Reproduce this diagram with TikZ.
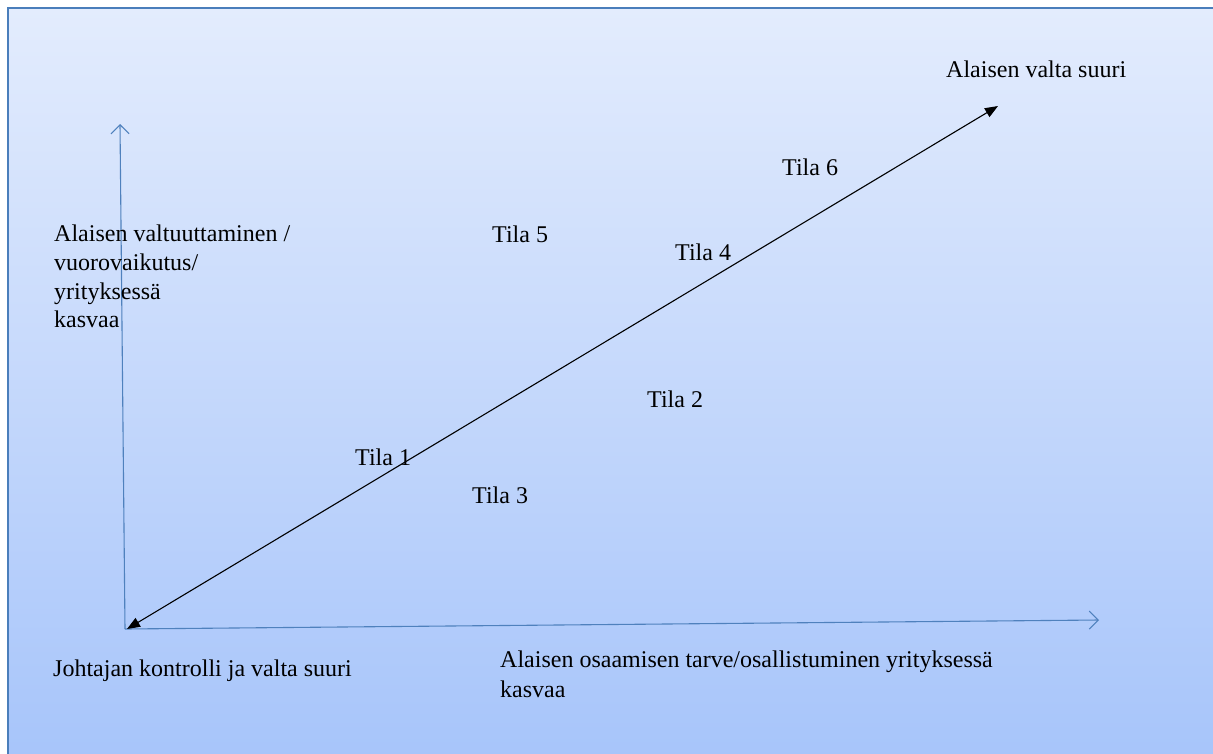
\documentclass[tikz,border=0pt]{standalone}
\usepackage{fontspec}
\setmainfont{Liberation Serif}
\usetikzlibrary{arrows.meta}
\definecolor{bgtop}{RGB}{227,236,253}
\definecolor{bgbot}{RGB}{166,196,250}
\definecolor{frameblue}{RGB}{74,126,187}
\definecolor{axisblue}{RGB}{79,129,189}
\tikzset{
  lbl/.style={inner sep=0pt, anchor=base west, font=\fontsize{24}{29}\selectfont, text=black},
  axisline/.style={draw=axisblue, line width=1.1pt, -{Straight Barb[length=9pt,width=18pt,line width=1.1pt]}},
  trend/.style={draw=black, line width=1.1pt, {Triangle[length=13pt,width=10pt]}-{Triangle[length=13pt,width=10pt]}}
}
\begin{document}
\begin{tikzpicture}[x=1pt,y=-1pt]
\useasboundingbox (0,0) rectangle (1213,753);
\begin{scope}
\clip (0,0) rectangle (1213,753);
\fill[white] (0,0) rectangle (1213,753);
% panel with vertical gradient, running past the right and bottom edges
\shade[top color=bgtop, bottom color=bgbot] (8,8) rectangle (1230,770);
\draw[frameblue, line width=2pt] (8,770) -- (8,8) -- (1230,8);
\end{scope}

% axes and the diagonal trend
\coordinate (O) at (125,629);
\coordinate (Ytop) at (120,124);
\coordinate (Xend) at (1099,620);
\coordinate (Dlow) at (127,629);
\coordinate (Dhigh) at (998,106);
\draw[axisline] (O) -- (Ytop);
\draw[axisline] (O) -- (Xend);
\draw[trend] (Dlow) -- (Dhigh);

% labels
\node[lbl] (top) at (946,77) {Alaisen valta suuri};
\node[lbl] (t6) at (782,175) {Tila 6};
\node[lbl] (t5) at (492,242) {Tila 5};
\node[lbl] (t4) at (675,260) {Tila 4};
\node[lbl] (t2) at (647,407) {Tila 2};
\node[lbl] (t1) at (355,465) {Tila 1};
\node[lbl] (t3) at (472,503) {Tila 3};
\node[lbl] (y1) at (54,241) {Alaisen valtuuttaminen /};
\node[lbl] (y2) at (54,270) {vuorovaikutus/};
\node[lbl] (y3) at (54,299) {yrityksessä};
\node[lbl] (y4) at (54,327) {kasvaa};
\node[lbl] (orig) at (53,676) {Johtajan kontrolli ja valta suuri};
\node[lbl] (x1) at (500,667) {Alaisen osaamisen tarve/osallistuminen yrityksessä};
\node[lbl] (x2) at (500,697) {kasvaa};
\end{tikzpicture}
\end{document}
